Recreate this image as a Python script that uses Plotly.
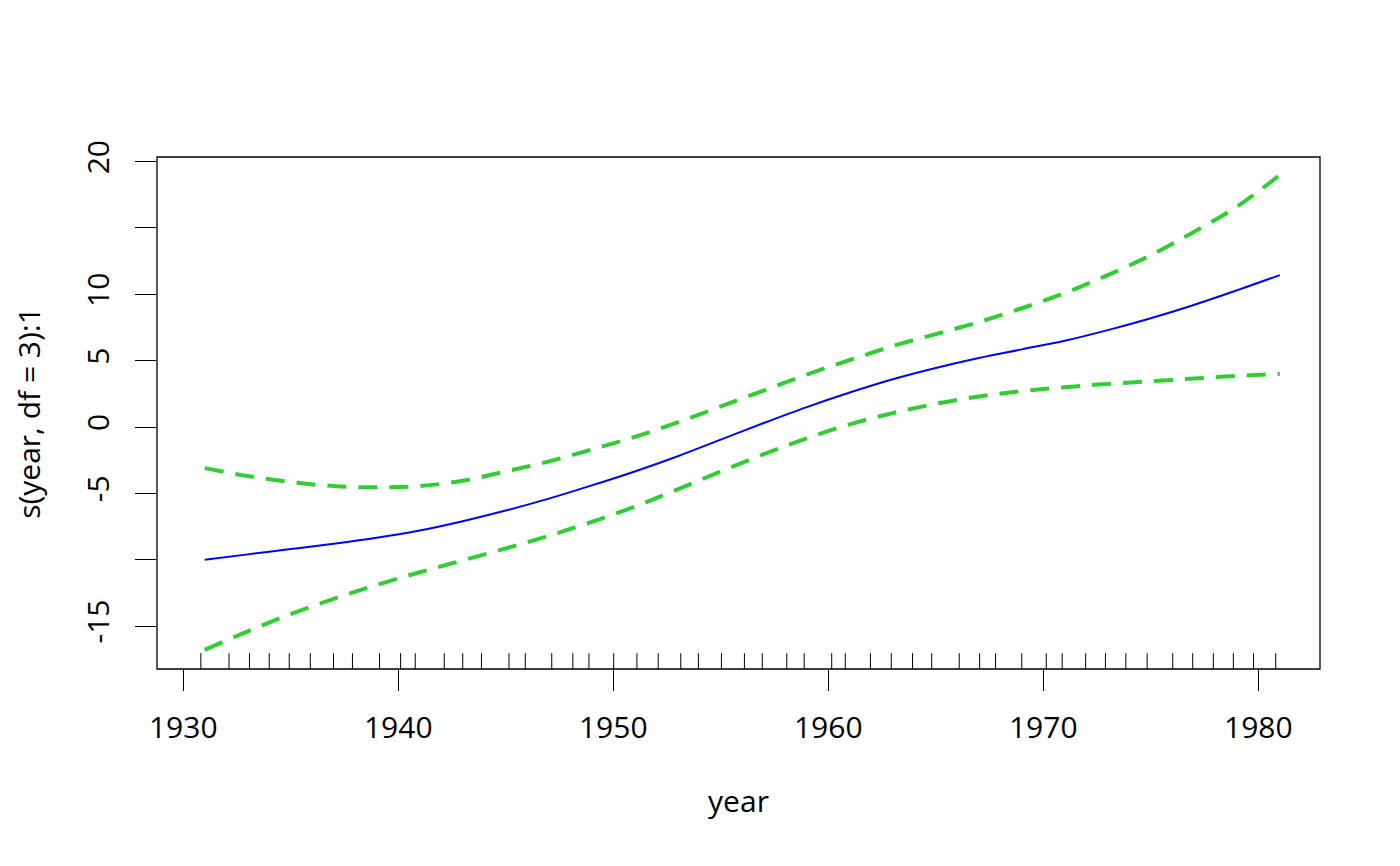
import plotly.graph_objects as go

# Data
years = [1931, 1933, 1935, 1937, 1939, 1941, 1943, 1945, 1947, 1949, 1951, 1953, 1955,
         1957, 1959, 1961, 1963, 1965, 1967, 1969, 1971, 1973, 1975, 1977, 1979, 1981]
fit = [-10.0, -9.6, -9.2, -8.8, -8.35, -7.8, -7.1, -6.3, -5.4, -4.4, -3.35, -2.2, -0.95,
       0.3, 1.5, 2.6, 3.6, 4.45, 5.2, 5.85, 6.5, 7.3, 8.2, 9.2, 10.3, 11.45]
upper = [-3.1, -3.7, -4.15, -4.45, -4.55, -4.45, -4.05, -3.35, -2.6, -1.7, -0.75, 0.35, 1.55,
         2.75, 3.95, 5.05, 6.1, 7.0, 7.9, 8.95, 10.1, 11.45, 12.95, 14.7, 16.6, 19.0]
lower = [-16.8, -15.4, -14.1, -12.95, -11.9, -10.95, -10.05, -9.15, -8.2, -7.15, -6.0, -4.7, -3.35,
         -2.05, -0.85, 0.2, 1.05, 1.75, 2.3, 2.7, 3.0, 3.25, 3.45, 3.65, 3.85, 4.0]
rug_years = [1930.82, 1932.13, 1933.08, 1934.0, 1934.93, 1935.91, 1936.99, 1937.87, 1939.13,
             1940.11, 1940.79, 1942.14, 1943.0, 1943.87, 1945.15, 1945.91, 1947.14, 1948.12,
             1948.87, 1950.02, 1951.1, 1952.09, 1953.14, 1953.96, 1955.03, 1956.1, 1956.93,
             1958.07, 1958.88, 1960.16, 1960.79, 1961.96, 1962.93, 1963.92, 1964.81, 1966.09,
             1967.04, 1967.78, 1969.0, 1970.14, 1970.88, 1971.97, 1972.89, 1973.84, 1974.83,
             1976.02, 1976.95, 1977.91, 1978.84, 1979.78, 1980.81]
x_ticks = [1930, 1940, 1950, 1960, 1970, 1980]
y_ticks = [-15, -10, -5, 0, 5, 10, 15, 20]
y_ticktext = ["-15", "", "-5", "0", "5", "10", "", "20"]

GREEN = "#32CD32"
FONT = "Open Sans"
FS = 30

fig = go.Figure()
fig.add_trace(go.Scatter(x=years, y=fit, mode="lines", line=dict(color="#0000FF", width=2, shape="spline"),
                         showlegend=False, hoverinfo="skip"))
fig.add_trace(go.Scatter(x=years, y=upper, mode="lines",
                         line=dict(color=GREEN, width=4, dash="19px,12px", shape="spline"),
                         showlegend=False, hoverinfo="skip"))
fig.add_trace(go.Scatter(x=years, y=lower, mode="lines",
                         line=dict(color=GREEN, width=4, dash="19px,12px", shape="spline"),
                         showlegend=False, hoverinfo="skip"))

shapes = []
for r in rug_years:
    shapes.append(dict(type="line", xref="x", yref="y domain", x0=r, x1=r, y0=0, y1=0.031,
                       line=dict(color="black", width=1)))
shapes.append(dict(type="rect", xref="paper", yref="paper", x0=0, x1=1, y0=0, y1=1,
                   line=dict(color="black", width=1.3)))

fig.update_layout(
    width=1400, height=866,
    margin=dict(l=149, r=88, t=149, b=205),
    paper_bgcolor="white", plot_bgcolor="white",
    font=dict(family=FONT, size=FS, color="black"),
    shapes=shapes,
    xaxis=dict(range=[1928.78, 1982.87], tickvals=x_ticks, ticks="outside", ticklen=21,
               tickwidth=1.3, tickcolor="black", showgrid=False, zeroline=False, showline=False,
               tickfont=dict(family=FONT, size=FS), ticklabelstandoff=11,
               title=dict(text="year", font=dict(family=FONT, size=FS), standoff=44)),
    yaxis=dict(range=[-18.24, 20.35], tickvals=y_ticks, ticktext=y_ticktext, ticks="outside",
               ticklen=21, tickwidth=1.3, tickcolor="black", showgrid=False, zeroline=False,
               showline=False, tickangle=-90, tickfont=dict(family=FONT, size=FS), ticklabelstandoff=14,
               title=dict(text="s(year, df = 3):1", font=dict(family=FONT, size=FS), standoff=35)),
)

fig.write_html("out.html")
